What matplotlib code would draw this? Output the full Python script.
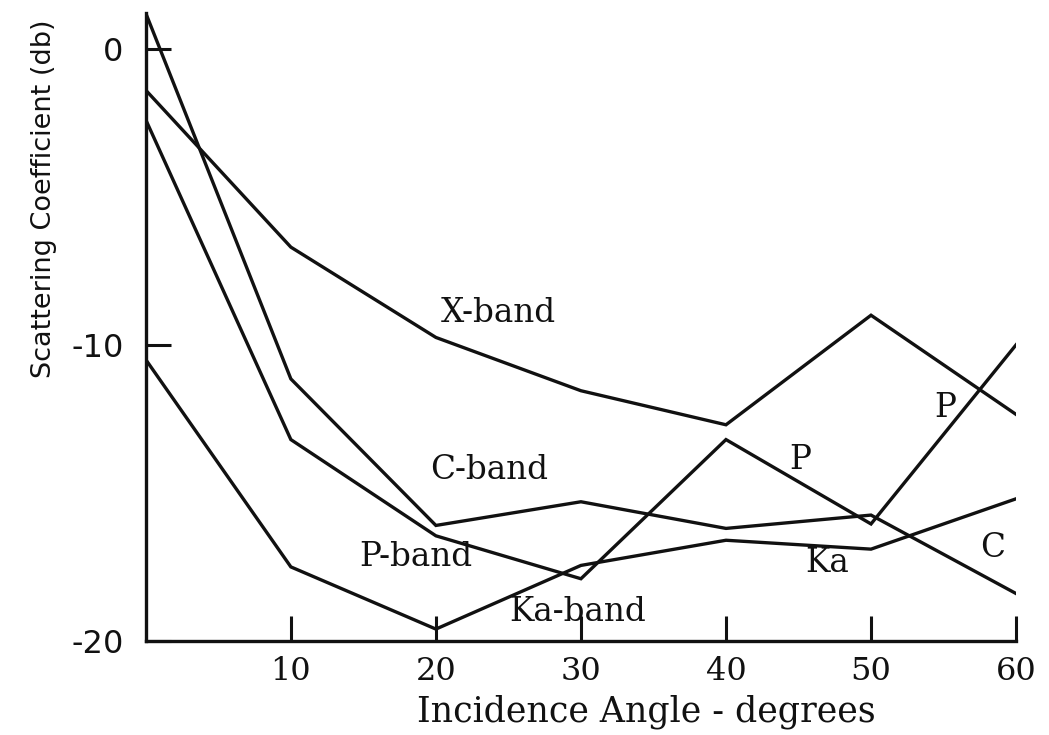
import matplotlib
matplotlib.use('Agg')
import matplotlib.pyplot as plt

angle = [0, 10, 20, 30, 40, 50, 60]

x_band = [-1.4, -6.7, -9.75, -11.55, -12.7, -9.0, -12.35]
c_band = [1.2, -11.15, -16.1, -15.3, -16.2, -15.75, -18.4]
p_band = [-2.4, -13.2, -16.45, -17.9, -13.2, -16.05, -10.0]
ka_band = [-10.5, -17.5, -19.6, -17.45, -16.6, -16.9, -15.2]

labels = ['X-band', 'C-band', 'P-band', 'Ka-band', 'P', 'P', 'Ka', 'C']
label_x = [24.3, 23.7, 18.6, 29.8, 45.1, 55.1, 47.0, 58.4]
label_y = [-8.94, -14.23, -17.17, -19.02, -13.9, -12.14, -17.37, -16.86]

SERIF = 'DejaVu Serif'
INK = '#111111'

plt.rcParams['axes.unicode_minus'] = False

fig = plt.figure(figsize=(10.49, 7.35), dpi=100)
ax = fig.add_axes([0.139, 0.128, 0.8296, 0.854])

for series in [x_band, c_band, p_band, ka_band]:
    ax.plot(angle, series, color=INK, linewidth=2.4, solid_joinstyle='miter')

for text, tx, ty in zip(labels, label_x, label_y):
    ax.text(tx, ty, text, ha='center', va='center', fontsize=23.5, family=SERIF, color=INK)

ax.set_xlim(0, 60)
ax.set_ylim(-20, 1.2)
ax.spines['top'].set_visible(False)
ax.spines['right'].set_visible(False)
for side in ['left', 'bottom']:
    ax.spines[side].set_linewidth(2.4)
    ax.spines[side].set_color(INK)

ax.set_xticks([10, 20, 30, 40, 50, 60])
ax.set_yticks([0, -10, -20])
ax.tick_params(direction='in', length=18, width=2.2, color=INK, labelcolor=INK)
ax.tick_params(axis='x', pad=11)
ax.tick_params(axis='y', pad=16)
for lab in ax.get_xticklabels():
    lab.set_family(SERIF)
    lab.set_fontsize(23)
for lab in ax.get_yticklabels():
    lab.set_fontsize(23)

ax.set_xlabel('Incidence Angle - degrees', fontsize=25, family=SERIF, color=INK)
ax.set_ylabel('Scattering Coefficient (db)', fontsize=19.5, color=INK)
ax.xaxis.set_label_coords(0.575, -0.086)
ax.yaxis.set_label_coords(-0.102, 0.704)

fig.savefig('out.png', dpi=100)
